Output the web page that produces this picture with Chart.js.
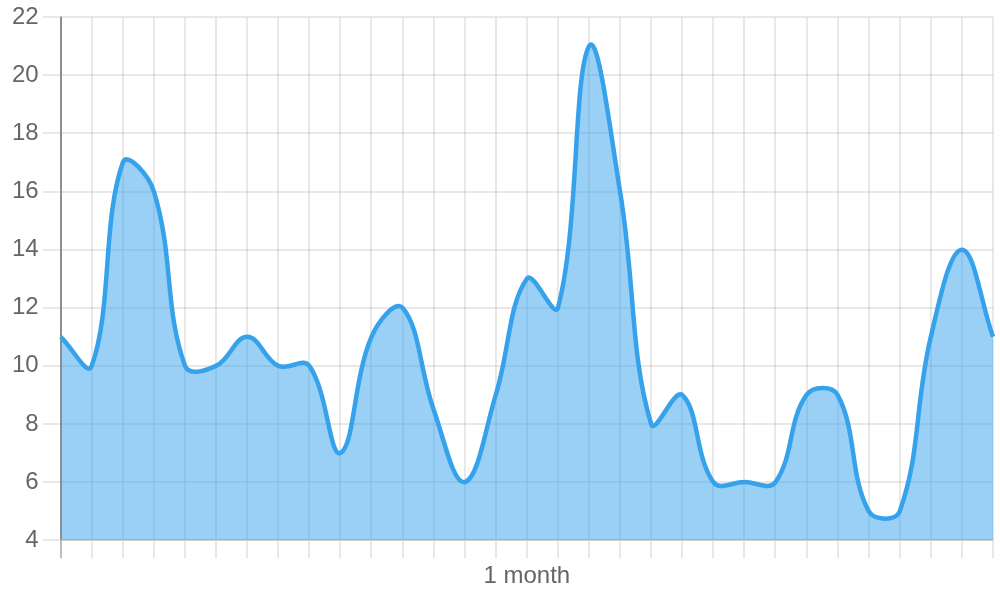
<!DOCTYPE html>
<html>
<head>
<meta charset="utf-8">
<script src="https://cdn.jsdelivr.net/npm/chart.js@4/dist/chart.umd.min.js"></script>
<style>
  html, body { margin: 0; padding: 0; background: #fff; }
  #wrap { width: 1000px; height: 600px; }
</style>
</head>
<body>
<div id="wrap"><canvas id="monthChart"></canvas></div>
<script>
// one point per day
const days = ["1", "2", "3", "4", "5", "6", "7", "8", "9", "10", "11", "12", "13", "14", "15", "16",
              "17", "18", "19", "20", "21", "22", "23", "24", "25", "26", "27", "28", "29", "30", "31"];
const values = [11, 10, 17, 16, 10, 10, 11, 10, 10, 7, 11, 12, 8.5, 6, 9, 13,
                12, 21, 16, 8, 9, 6, 6, 6, 9, 9, 5, 5, 11, 14, 11];
const yTicks = [4, 6, 8, 10, 12, 14, 16, 18, 20, 22];

document.addEventListener("DOMContentLoaded", function () {
    Chart.defaults.font.family = "'Liberation Sans', Arial, sans-serif";
    Chart.defaults.color = "#666";

    const ctx = document.getElementById("monthChart").getContext("2d");
    new Chart(ctx, {
        type: "line",
        data: {
            labels: days,
            datasets: [{
                data: values,
                borderColor: "rgb(54, 162, 235)",
                backgroundColor: "rgba(54, 162, 235, 0.5)",
                borderWidth: 4.5,
                pointRadius: 0,
                tension: 0.4,
                fill: "start"
            }]
        },
        options: {
            responsive: true,
            maintainAspectRatio: false,
            animation: false,
            layout: { padding: { left: 8, right: 7, top: 0, bottom: 5 } },
            plugins: { legend: { display: false }, tooltip: { enabled: false } },
            scales: {
                x: {
                    grid: {
                        color: c => c.index === 0 ? "rgba(0,0,0,0.25)" : "rgba(0,0,0,0.09)",
                        lineWidth: 2,
                        tickLength: 18
                    },
                    border: { color: "rgba(0,0,0,0.1)", width: 2 },
                    ticks: { display: false },
                    title: { display: true, text: "1 month", font: { size: 24 } }
                },
                y: {
                    min: yTicks[0],
                    max: yTicks[yTicks.length - 1],
                    grid: { color: "rgba(0,0,0,0.09)", lineWidth: 2, tickLength: 18 },
                    border: { color: "rgba(0,0,0,0.25)", width: 2 },
                    afterBuildTicks: axis => { axis.ticks = yTicks.map(v => ({ value: v })); },
                    ticks: { padding: 4, font: { size: 24, lineHeight: 1.1 } }
                }
            }
        }
    });
});
</script>
</body>
</html>
